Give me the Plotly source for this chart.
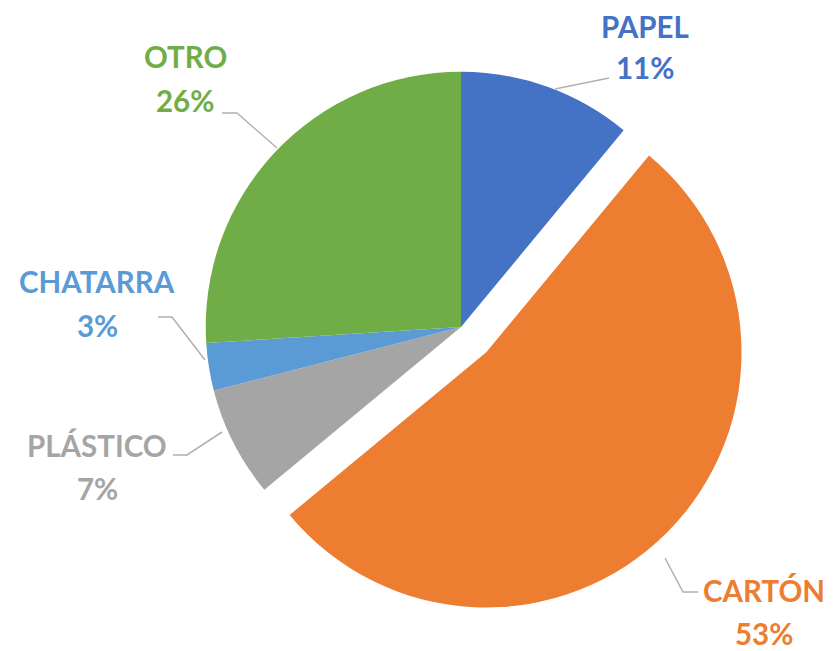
import plotly.graph_objects as go

labels = ["PAPEL", "CARTÓN", "PLÁSTICO", "CHATARRA", "OTRO"]
values = [11, 53, 7, 3, 26]
colors = ["#4472C4", "#ED7D31", "#A5A5A5", "#5B9BD5", "#70AD47"]
pulls = [0, 0.14, 0, 0, 0]

W, H = 833, 651

def px(x):
    return x / W

def py(y):
    return 1 - y / H

fig = go.Figure(go.Pie(
    labels=labels, values=values, sort=False, direction="clockwise", rotation=0,
    marker=dict(colors=colors, line=dict(width=0)), pull=pulls,
    textinfo="none", hoverinfo="label+percent", showlegend=False,
    domain=dict(x=[px(170), px(752)], y=[py(618), py(36)]),
))

# label placement (centre x, name y, percent y) in pixels
label_pos = {
    "PAPEL": (645, 26, 68),
    "CARTÓN": (764, 590, 633),
    "PLÁSTICO": (97, 445, 488),
    "CHATARRA": (97, 281, 325),
    "OTRO": (185, 57, 101),
}
leaders = {
    "PAPEL": [(555, 89), (609, 78)],
    "CARTÓN": [(665, 558), (683, 592), (698, 592)],
    "PLÁSTICO": [(173, 455), (187, 455), (222, 432)],
    "CHATARRA": [(158, 317), (172, 317), (205, 360)],
    "OTRO": [(222, 113), (237, 113), (277, 148)],
}

total = sum(values)
annotations = []
shapes = []
for lab, val, col in zip(labels, values, colors):
    cx, yn, yp = label_pos[lab]
    annotations.append(dict(x=px(cx), y=py(yn), xref="paper", yref="paper", text=f"<b>{lab}</b>",
                            showarrow=False, xanchor="center", yanchor="middle",
                            font=dict(family="Lato", size=29.5, color=col)))
    annotations.append(dict(x=px(cx), y=py(yp), xref="paper", yref="paper",
                            text=f"<b>{round(100 * val / total)}%</b>",
                            showarrow=False, xanchor="center", yanchor="middle",
                            font=dict(family="Lato", size=29.5, color=col)))
    pts = leaders[lab]
    path = "M " + " L ".join(f"{px(x)},{py(y)}" for x, y in pts)
    shapes.append(dict(type="path", path=path, xref="paper", yref="paper",
                       line=dict(color="#B0B0B0", width=1.5)))

fig.update_layout(
    width=W, height=H, margin=dict(l=0, r=0, t=0, b=0),
    paper_bgcolor="white", plot_bgcolor="white",
    annotations=annotations, shapes=shapes,
)
fig.write_html("out.html", config={"displayModeBar": False},
               post_script="document.body.style.margin='0';document.body.style.overflow='hidden';")
